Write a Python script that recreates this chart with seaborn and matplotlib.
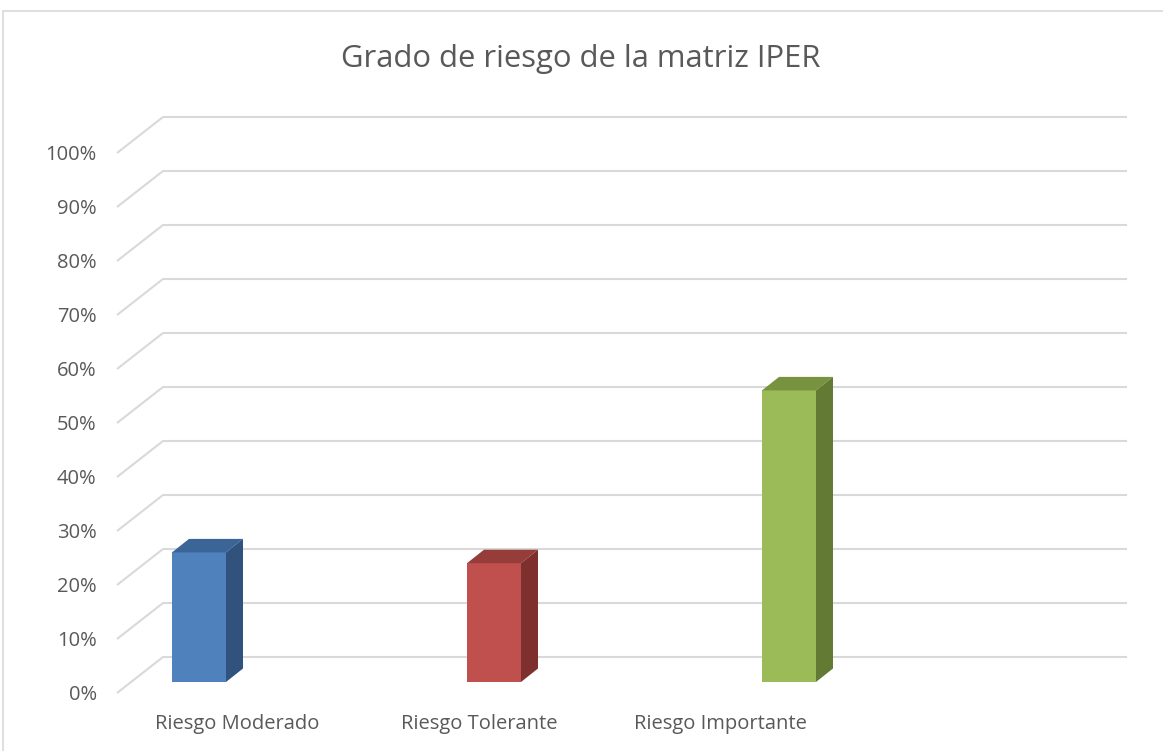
import matplotlib
matplotlib.use("Agg")
import matplotlib.pyplot as plt
import seaborn as sns
import pandas as pd
from matplotlib.patches import Polygon
from matplotlib.lines import Line2D

categories = ["Riesgo Moderado", "Riesgo Tolerante", "Riesgo Importante"]
values = [24, 22, 54]
front_colors = ["#4F81BD", "#C0504D", "#9BBB59"]
top_colors = ["#3B6597", "#963D3A", "#77933F"]
side_colors = ["#30527D", "#7D302E", "#627A34"]
ytick_values = [0, 10, 20, 30, 40, 50, 60, 70, 80, 90, 100]
ytick_labels = [f"{v}%" for v in ytick_values]
title = "Grado de riesgo de la matriz IPER"

W, H = 1163, 751
sns.set_theme(style="white")
plt.rcParams['font.family'] = ['Open Sans', 'DejaVu Sans']
text_color = "#595959"
grid_color = "#D9D9D9"

fig = plt.figure(figsize=(W / 100, H / 100), dpi=100)
ax_l, ax_r, ax_t, ax_b = 105, 1140, 100, 702
ax = fig.add_axes([ax_l / W, 1 - ax_b / H, (ax_r - ax_l) / W, (ax_b - ax_t) / H])

cat_px = 295.0
x0_px = 199.0
pct_px = 5.4
y0_px = 682.0

df = pd.DataFrame({"cat": categories, "val": values})
sns.barplot(data=df, x="cat", y="val", hue="cat", palette=front_colors,
            width=54 / cat_px, legend=False, ax=ax, saturation=1, zorder=3)

ax.set_xlim((ax_l - x0_px) / cat_px, (ax_r - x0_px) / cat_px)
ax.set_ylim((y0_px - ax_b) / pct_px, (y0_px - ax_t) / pct_px)

ddx = 17 / cat_px
ddy = 13.5 / pct_px
for i, p in enumerate(ax.patches):
    x = p.get_x()
    w = p.get_width()
    h = p.get_height()
    p.set_edgecolor("none")
    top = Polygon([(x, h), (x + ddx, h + ddy), (x + w + ddx, h + ddy), (x + w, h)],
                  closed=True, facecolor=top_colors[i], edgecolor="none", zorder=3)
    side = Polygon([(x + w, 0), (x + w + ddx, ddy), (x + w + ddx, h + ddy), (x + w, h)],
                   closed=True, facecolor=side_colors[i], edgecolor="none", zorder=3)
    ax.add_patch(top)
    ax.add_patch(side)

wf_x = (117 - x0_px) / cat_px
wb_x = (163 - x0_px) / cat_px
wr_x = (1127 - x0_px) / cat_px
wf_dy = -11 / pct_px
wb_dy = 25 / pct_px
for v in ytick_values:
    ax.plot([wf_x, wb_x, wr_x], [v + wf_dy, v + wb_dy, v + wb_dy],
            color=grid_color, lw=1.5, zorder=1, solid_capstyle="butt")

for s in ax.spines.values():
    s.set_visible(False)
ax.set_yticks([v + wf_dy for v in ytick_values])
ax.set_yticklabels(ytick_labels)
label_px = [237, 479, 720]
ax.set_xticks([(p - x0_px) / cat_px for p in label_px])
ax.set_xticklabels(categories)
ax.tick_params(axis="y", length=0, pad=6, labelsize=14.5, labelcolor=text_color)
ax.tick_params(axis="x", length=0, pad=9, labelsize=14.5, labelcolor=text_color)
ax.set_xlabel("")
ax.set_ylabel("")
ax.grid(False)

fig.text(581 / W, 1 - 59 / H, title, ha="center", va="center",
         fontsize=22.3, color=text_color)

fig.add_artist(Line2D([3 / W, 3 / W], [0, 1 - 11 / H], transform=fig.transFigure,
                      color=grid_color, lw=1.2))
fig.add_artist(Line2D([3 / W, 1], [1 - 11 / H, 1 - 11 / H], transform=fig.transFigure,
                      color=grid_color, lw=1.2))

fig.savefig("out.png", dpi=100, facecolor="white")
